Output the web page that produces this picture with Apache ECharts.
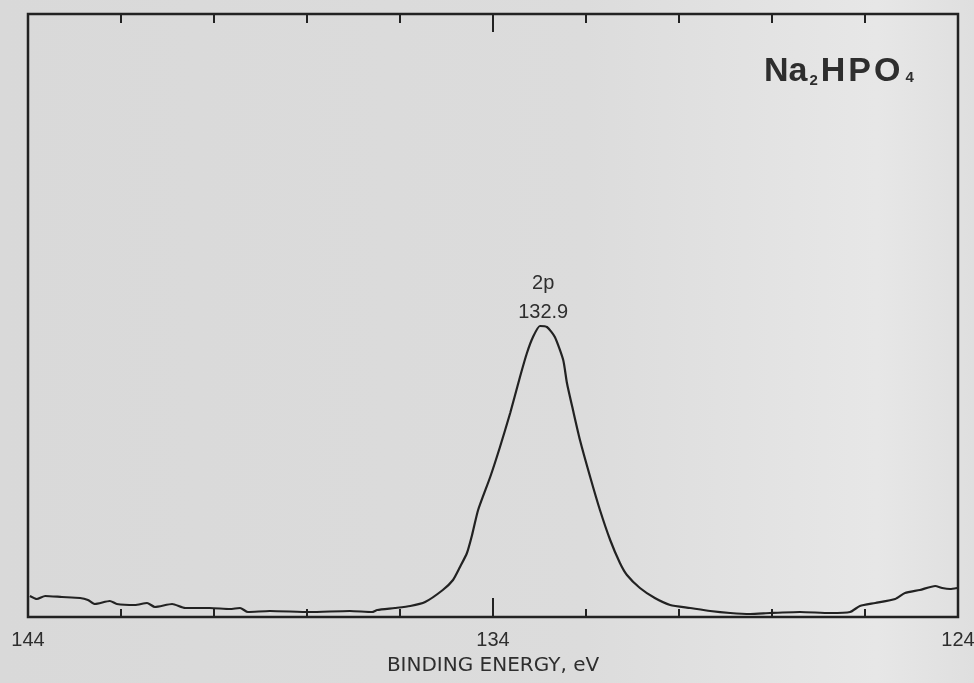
<!DOCTYPE html>
<html>
<head>
<meta charset="utf-8">
<script src="https://cdn.jsdelivr.net/npm/echarts@6/dist/echarts.min.js"></script>
<style>
html,body{margin:0;padding:0;}
#c{width:974px;height:683px;}
</style>
</head>
<body>
<div id="c"></div>
<script>
// Binding energy (eV) and intensity (arbitrary units)
const energy = [143.96,143.81,143.63,143.27,142.88,142.71,142.56,142.24,142.09,141.70,141.44,141.27,140.90,140.62,140.09,139.66,139.44,139.27,138.80,137.94,137.08,136.60,136.49,136.11,135.78,135.46,135.08,134.86,134.71,134.56,134.45,134.32,134.06,133.85,133.63,133.42,133.27,133.14,132.99,132.84,132.67,132.49,132.41,132.28,132.13,131.91,131.70,131.48,131.27,131.12,130.84,130.52,130.19,129.76,129.33,128.90,128.47,128.04,127.40,126.75,126.32,126.11,125.78,125.35,125.14,124.82,124.49,124.34,124.17,124.02];
const intensity = [21,18,21,20,19,17,13,16,13,12,14,10,13,9,9,8,9,5,6,5,6,5,7,9,11,15,27,37,50,64,82,107,140,170,204,240,264,280,291,290,280,257,234,207,177,140,107,77,54,42,29,19,12,9,6,4,3,4,5,4,5,11,14,18,24,27,31,29,28,29];
const xTickLabels = ['144','134','124'];
const peakLabel = ['2p','132.9'];
const peakPos = [132.92, 291];

const data = energy.map((e,i)=>[e,intensity[i]]);
const chart = echarts.init(document.getElementById('c'));
const ink = '#222';
const txt = '#2e2e2e';
const baseAxis = {
  type:'value', min:124, max:144, inverse:true,
  axisLine:{show:false}, splitLine:{show:false}
};
const big = {fontFamily:'Liberation Sans',fontWeight:'bold',fontSize:34,color:txt};
chart.setOption({
  animation:false,
  backgroundColor:{type:'linear',x:0,y:0,x2:1,y2:0,colorStops:[
    {offset:0,color:'#d9d9d9'},{offset:0.6,color:'#dcdcdc'},{offset:0.9,color:'#e7e7e7'},{offset:1,color:'#dfdfdf'}]},
  title:{
    left:759, top:50,
    text:'{a|Na}{s|2}{h|H}{h|P}{h|O}{t|4}',
    textStyle:{
      rich:{
        a:Object.assign({},big,{padding:[0,1,0,0]}),
        h:Object.assign({},big,{padding:[0,2,0,1]}),
        s:{fontFamily:'Liberation Sans',fontWeight:'bold',fontSize:15,color:txt,verticalAlign:'bottom',padding:[0,2,1,1]},
        t:{fontFamily:'Liberation Sans',fontWeight:'bold',fontSize:15,color:txt,verticalAlign:'bottom',padding:[0,0,4,3]}
      }
    }
  },
  grid:{left:28,right:16,top:14,bottom:66,outerBoundsMode:'none',containLabel:false,
    show:true,borderColor:ink,borderWidth:2.5,backgroundColor:'transparent'},
  xAxis:[
    Object.assign({},baseAxis,{position:'bottom',interval:2,
      axisTick:{show:true,inside:true,length:8,lineStyle:{color:ink,width:2}},
      axisLabel:{show:false}}),
    Object.assign({},baseAxis,{position:'bottom',interval:10,
      axisTick:{show:true,inside:true,length:19,lineStyle:{color:ink,width:2}},
      axisLabel:{show:true,margin:13,fontSize:20,fontFamily:'Liberation Sans',color:txt,hideOverlap:false,
        formatter:v=>xTickLabels.includes(String(v))?String(v):''},
      name:'BINDING ENERGY, eV',nameLocation:'middle',nameGap:39,
      nameTextStyle:{fontSize:20,fontFamily:'DejaVu Sans',color:txt}}),
    Object.assign({},baseAxis,{position:'top',interval:2,
      axisTick:{show:true,inside:true,length:9,lineStyle:{color:ink,width:2}},
      axisLabel:{show:false}}),
    Object.assign({},baseAxis,{position:'top',interval:10,
      axisTick:{show:true,inside:true,length:18,lineStyle:{color:ink,width:2}},
      axisLabel:{show:false}})
  ],
  yAxis:{type:'value',min:0,max:603,show:false},
  series:[{
    type:'line', xAxisIndex:0, data:data, showSymbol:false, symbol:'none',
    lineStyle:{color:ink,width:2.2}, smooth:0.2,
    markPoint:{
      symbol:'circle',symbolSize:0,
      data:[{coord:peakPos}],
      label:{show:true,position:'top',distance:-1,formatter:peakLabel.join('\n'),
        fontSize:20,lineHeight:29,fontFamily:'Liberation Sans',color:txt}
    }
  }]
});
</script>
</body>
</html>
